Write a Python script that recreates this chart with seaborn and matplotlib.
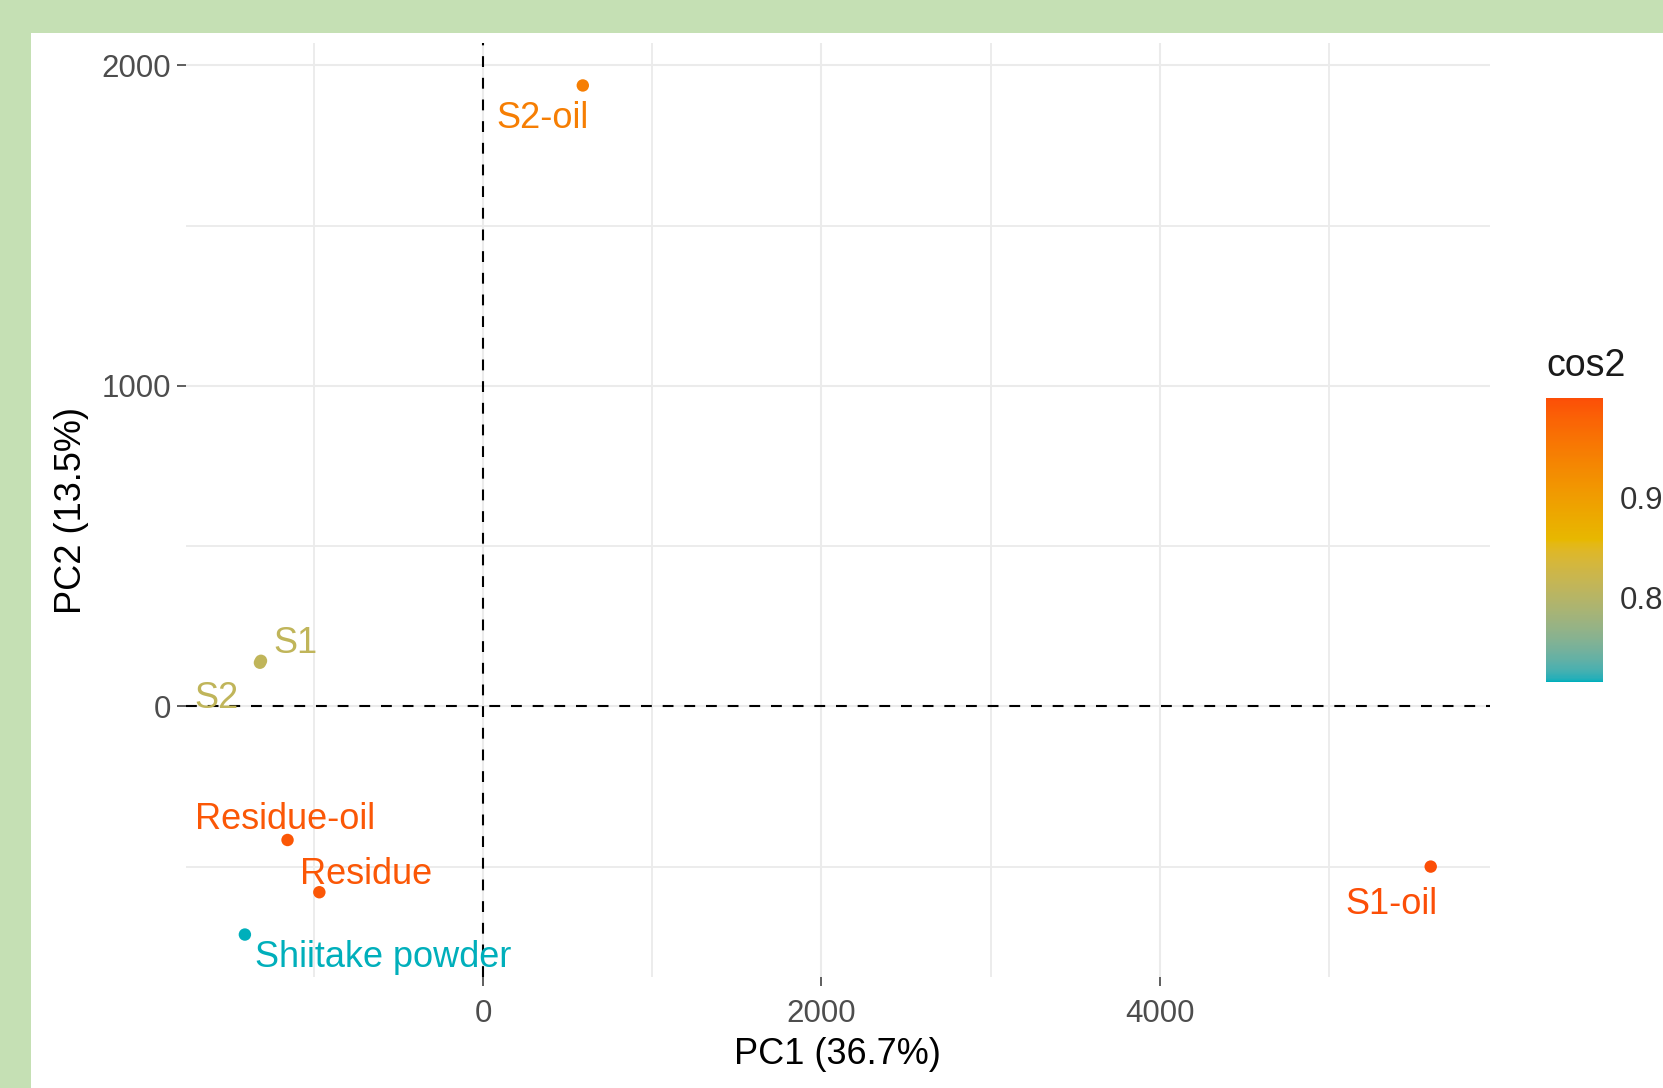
import numpy as np
import pandas as pd
import matplotlib
matplotlib.use("Agg")
import matplotlib.pyplot as plt
from matplotlib.colors import ListedColormap, Normalize
from matplotlib.cm import ScalarMappable
from matplotlib.patches import Rectangle
from matplotlib.ticker import MultipleLocator
import seaborn as sns

# ---- data: individuals on the first two principal components ----
samples = ["S2-oil", "S1", "S2", "Residue-oil", "Residue", "Shiitake powder", "S1-oil"]
pc1 = [590, -1312, -1318, -1155, -967, -1407, 5601]
pc2 = [1937, 142, 136, -417, -580, -712, -500]
cos2 = [0.945, 0.81, 0.81, 0.99, 0.99, 0.715, 1.0]

# label displacement from each point (points), repel-style
label_dx = [-29.0, 25.2, -31.3, -1.5, 33.6, 99.3, -28.3]
label_dy = [-21.4, 15.3, -22.9, 17.6, 15.3, -13.7, -24.4]

x_title = "PC1 (36.7%)"
y_title = "PC2 (13.5%)"
legend_title = "cos2"

df = pd.DataFrame({"name": samples, "PC1": pc1, "PC2": pc2, "cos2": cos2})


# ---- colour ramp interpolated in CIELAB ----
def srgb_to_lab(rgb):
    rgb = np.asarray(rgb, float)
    lin = np.where(rgb <= 0.04045, rgb / 12.92, ((rgb + 0.055) / 1.055) ** 2.4)
    M = np.array([[0.4124564, 0.3575761, 0.1804375],
                  [0.2126729, 0.7151522, 0.0721750],
                  [0.0193339, 0.1191920, 0.9503041]])
    xyz = lin @ M.T / np.array([0.95047, 1.0, 1.08883])
    d = 6 / 29
    f = np.where(xyz > d ** 3, np.cbrt(xyz), xyz / (3 * d * d) + 4 / 29)
    return np.stack([116 * f[..., 1] - 16,
                     500 * (f[..., 0] - f[..., 1]),
                     200 * (f[..., 1] - f[..., 2])], -1)


def lab_to_srgb(lab):
    lab = np.asarray(lab, float)
    fy = (lab[..., 0] + 16) / 116
    fx = fy + lab[..., 1] / 500
    fz = fy - lab[..., 2] / 200
    d = 6 / 29
    f = np.stack([fx, fy, fz], -1)
    xyz = np.where(f > d, f ** 3, 3 * d * d * (f - 4 / 29))
    xyz = xyz * np.array([0.95047, 1.0, 1.08883])
    Minv = np.array([[3.2404542, -1.5371385, -0.4985314],
                     [-0.9692660, 1.8760108, 0.0415560],
                     [0.0556434, -0.2040259, 1.0572252]])
    lin = xyz @ Minv.T
    lin = np.clip(lin, 0, 1)
    rgb = np.where(lin <= 0.0031308, 12.92 * lin, 1.055 * lin ** (1 / 2.4) - 0.055)
    return np.clip(rgb, 0, 1)


anchors = np.array([[0x00, 0xAF, 0xBB], [0xE7, 0xB8, 0x00], [0xFC, 0x4E, 0x07]]) / 255
lab_anchors = srgb_to_lab(anchors)
t = np.linspace(0, 1, 256)
seg = np.clip(t * 2, 0, 2)
idx = np.minimum(seg.astype(int), 1)
frac = (seg - idx)[:, None]
lab_ramp = lab_anchors[idx] * (1 - frac) + lab_anchors[idx + 1] * frac
cmap = ListedColormap(lab_to_srgb(lab_ramp))
norm = Normalize(vmin=min(cos2), vmax=max(cos2))

# ---- figure ----
sns.set_theme(style="white")
plt.rcParams["font.family"] = ["Liberation Sans", "DejaVu Sans"]

W, H = 1663, 1088
fig = plt.figure(figsize=(W / 100, H / 100), dpi=100, facecolor="#C5E0B4")
fig.patches.append(Rectangle((31 / W, 0), 1, 1 - 33 / H, transform=fig.transFigure,
                             facecolor="white", edgecolor="none", zorder=-10))

ax = fig.add_axes([185.6 / W, 1 - 977 / H, (1490 - 185.6) / W, (977 - 43) / H])
ax.set_facecolor("none")

sns.scatterplot(data=df, x="PC1", y="PC2", hue="cos2", palette=cmap, hue_norm=norm,
                s=80, linewidth=0, legend=False, ax=ax, zorder=4)

for name, x, y, c, dx, dy in zip(samples, pc1, pc2, cos2, label_dx, label_dy):
    ax.annotate(name, (x, y), xytext=(dx, dy - 2.6), textcoords="offset points",
                ha="center", va="center", fontsize=26, color=cmap(norm(c)), zorder=5)

ax.axhline(0, color="black", lw=1.5, ls=(0, (5.2, 5.2)), zorder=3)
ax.axvline(0, color="black", lw=1.5, ls=(0, (5.2, 5.2)), zorder=3)

# ggplot-style 5% expansion of the data range
xr = max(pc1) - min(pc1)
yr = max(pc2) - min(pc2)
ax.set_xlim(min(pc1) - 0.05 * xr, max(pc1) + 0.05 * xr)
ax.set_ylim(min(pc2) - 0.05 * yr, max(pc2) + 0.05 * yr)

ax.xaxis.set_major_locator(MultipleLocator(2000))
ax.xaxis.set_minor_locator(MultipleLocator(1000))
ax.yaxis.set_major_locator(MultipleLocator(1000))
ax.yaxis.set_minor_locator(MultipleLocator(500))
ax.grid(True, which="major", color="#EBEBEB", lw=1.5, zorder=0)
ax.grid(True, which="minor", color="#EBEBEB", lw=1.3, zorder=0)
ax.set_axisbelow(True)
for s in ax.spines.values():
    s.set_visible(False)

ax.tick_params(which="major", length=6.5, width=1.1, color="#333333",
               labelsize=22.5, labelcolor="#4D4D4D", bottom=True, left=True)
ax.tick_params(axis="x", which="major", pad=9)
ax.tick_params(axis="y", which="major", pad=4)
ax.tick_params(which="minor", length=0)

ax.set_xlabel(x_title, fontsize=26, color="black")
ax.set_ylabel(y_title, fontsize=26, color="black")
ax.xaxis.set_label_coords(0.5, -0.0825)
ax.xaxis.label.set_va("center")
ax.yaxis.set_label_coords(-0.0871, 0.5)
ax.yaxis.label.set_va("center")

# ---- colour bar legend ----
cax = fig.add_axes([1546 / W, 1 - 682 / H, 57 / W, 284 / H])
cb = fig.colorbar(ScalarMappable(norm=norm, cmap=cmap), cax=cax, ticks=[0.8, 0.9])
cb.outline.set_visible(False)
cb.ax.set_yticklabels(["0.8", "0.9"])
cax.tick_params(axis="y", direction="in", length=7, width=1.2, color="white",
                left=True, right=True, labelleft=False, labelright=True,
                labelsize=22.5, labelcolor="#333333", pad=12)
cax.set_title(legend_title, loc="left", fontsize=27, color="#1A1A1A", pad=16)

fig.savefig("out.png", dpi=100, facecolor=fig.get_facecolor())
